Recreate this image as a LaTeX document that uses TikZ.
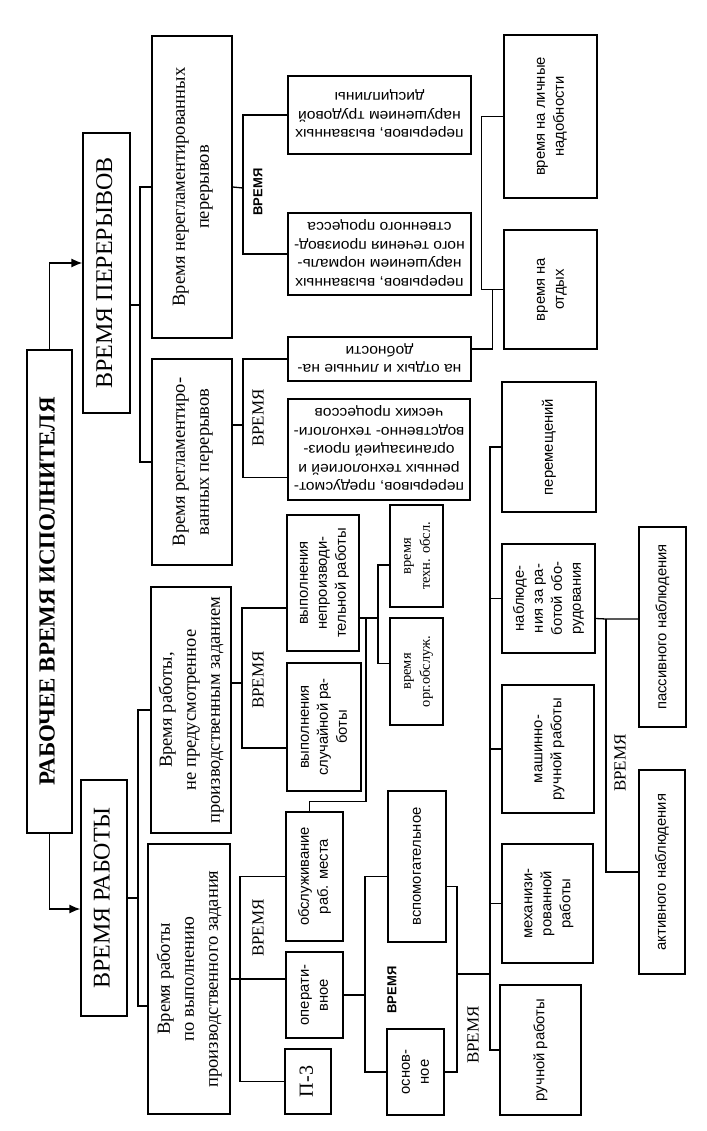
\documentclass[tikz,border=0pt]{standalone}
\usepackage{fontspec}
\setmainfont{Liberation Serif}
\setsansfont{Liberation Sans}
\newfontfamily\widesans[FakeStretch=1.08]{Liberation Sans}
\usepackage{graphicx}
\usetikzlibrary{arrows.meta}

\newcommand{\vtext}[1]{\rotatebox{90}{\begin{tabular}{@{}c@{}}#1\end{tabular}}}
\newcommand{\utext}[1]{\rotatebox{180}{\begin{tabular}{@{}c@{}}#1\end{tabular}}}

\begin{document}
\begin{tikzpicture}[
  x=1pt, y=-1pt, line width=1.3pt,
  box/.style={rectangle, draw, inner sep=0pt},
  sz/.style 2 args={minimum width=#1pt, minimum height=#2pt},
  head/.style={box, font=\fontsize{24}{28}\selectfont},
  main/.style={box, font=\fontsize{18.5}{24}\selectfont},
  sans/.style={box, font=\sffamily\fontsize{14.8}{19}\selectfont},
  flip/.style={box, font=\widesans\fontsize{14.5}{18.5}\selectfont},
  tbox/.style={box, font=\fontsize{14.5}{19}\selectfont},
  lbl/.style={rotate=90, font=\fontsize{17}{19}\selectfont},
  slbl/.style={rotate=90, font=\sffamily\bfseries\fontsize{13}{15}\selectfont},
  arrow/.style={-{Latex[length=11pt,width=9pt]}}
]
\useasboundingbox (0,0) rectangle (706,1131);

% title and first level
\node[box, sz={45}{483}, font=\bfseries\fontsize{23}{26}\selectfont] (title) at (49.5,591.5) {\vtext{РАБОЧЕЕ ВРЕМЯ ИСПОЛНИТЕЛЯ}};
\node[head, sz={47}{280}] (perer) at (106.5,273) {\vtext{ВРЕМЯ ПЕРЕРЫВОВ}};
\node[head, sz={46}{236}] (rabota) at (104,898) {\vtext{ВРЕМЯ РАБОТЫ}};

\draw[arrow] (title.north) |- ([yshift=10pt]perer.west);
\draw[arrow] (title.south) |- ([yshift=-11pt]rabota.west);

% second level
\node[main, sz={80}{302}] (nereg) at (192,187) {\vtext{Время нерегламентированных\\перерывов}};
\node[main, sz={80}{206}] (reg) at (192,462) {\vtext{Время регламентиро-\\ванных перерывов}};
\node[main, sz={80}{246}] (nepred) at (191,710) {\vtext{Время работы,\\не предусмотренное\\производственным заданием}};
\node[main, sz={82}{270}] (vypoln) at (189,979) {\vtext{Время работы\\по выполнению\\производственного задания}};

\coordinate (jP) at (140,305);
\draw ([yshift=-32pt]perer.east) -- (jP);
\draw (nereg.west) -| (jP) |- (reg.west);
\coordinate (jW) at (138,908);
\draw (rabota.east) -- (rabota.east -| jW);
\draw (nepred.west) -| (jW) |- ([yshift=-27pt]vypoln.west);

% breaks
\node[flip, sz={183}{78}] (narush) at (379.5,115) {\utext{перерывов, вызванных\\нарушением трудовой\\дисциплины}};
\node[flip, sz={183}{82}] (normal) at (379.5,254) {\utext{перерывов, вызванных\\нарушением нормаль-\\ного течения производ-\\ственного процесса}};
\node[flip, sz={183}{44}] (otdyh) at (379.5,359) {\utext{на отдых и личные на-\\добности}};
\node[flip, sz={182}{101}] (predus) at (379,449.5) {\utext{перерывов, предусмот-\\ренных технологией и\\организацией произ-\\водственно- технологи-\\ческих процессов}};
\node[sans, sz={93}{163}] (lichnye) at (550.5,116.5) {\vtext{время на личные\\надобности}};
\node[sans, sz={93}{119}] (otdyhbox) at (550.5,289.5) {\vtext{время на\\отдых}};

\node[slbl] (tNR) at (258,192) {ВРЕМЯ};
\node[lbl] (tRG) at (258,418) {ВРЕМЯ};

\coordinate (jNR) at (243,188);
\draw (nereg.east) -- (jNR);
\draw (narush.west) -| (jNR) |- (normal.west);
\coordinate (jRG) at (243,425);
\draw ([yshift=37pt]reg.east) -- (jRG);
\draw (otdyh.west) -| (jRG) |- ([yshift=-28pt]predus.west);
\draw ([yshift=10pt]otdyh.east) -| ([xshift=-11pt]otdyhbox.west);
\draw (lichnye.west) -| ([xshift=-22pt]otdyhbox.west) -- (otdyhbox.west);

% work not in the task
\node[sans, sz={72}{136}] (neproizv) at (323,583) {\vtext{выполнения\\непроизводи-\\тельной работы}};
\node[sans, sz={74}{128}] (sluch) at (324,727) {\vtext{выполнения\\случайной ра-\\боты}};
\node[tbox, sz={53}{102}] (tehn) at (416.5,556) {\vtext{время\\техн. обсл.}};
\node[tbox, sz={53}{107}] (org) at (416.5,671.5) {\vtext{время\\орг.обслуж.}};

\node[lbl] (tNP) at (258,680) {ВРЕМЯ};

\coordinate (jNP) at (242,683);
\draw ([yshift=27pt]nepred.east) -- (jNP);
\draw ([yshift=-25pt]neproizv.west) -| (jNP) |- ([yshift=-21pt]sluch.west);
\coordinate (jT) at (378,618);
\coordinate (jN) at (366,618);
\draw ([yshift=-35pt]neproizv.east) -- (jT);
\draw ([yshift=-9pt]tehn.west) -| (jT) |- ([yshift=8pt]org.west);

% work on the task
\node[sans, sz={57}{129}] (obsl) at (314.5,876.5) {\vtext{обслуживание\\раб. места}};
\node[sans, sz={57}{86}] (oper) at (314.5,995) {\vtext{операти-\\вное}};
\node[box, sz={46}{65}, font=\fontsize{20}{24}\selectfont] (p3) at (308,1081.5) {\vtext{П-3}};
\node[sans, sz={58}{151}] (vspom) at (417,866.5) {\vtext{вспомогательное}};
\node[sans, sz={57}{86}] (osnov) at (415.5,1072) {\vtext{основ-\\ное}};

\node[lbl] (tVP) at (258,928) {ВРЕМЯ};
\node[slbl] (tOP) at (392,990) {ВРЕМЯ};

\coordinate (jV) at (240,979);
\draw (vypoln.east) -- (vypoln.east -| oper.west);
\draw (obsl.west) -| (jV) |- (p3.west);
\draw ([xshift=-5pt]obsl.north) -- ++(0,-10) -| (jN);
\coordinate (jOP) at (365,995);
\draw (oper.east) -- (jOP);
\draw ([yshift=-10pt]vspom.west) -| (jOP) |- (osnov.west);

% kinds of main time
\node[sans, sz={94}{130}] (perem) at (549,447) {\vtext{перемещений}};
\node[sans, sz={93}{109}] (nabl) at (548.5,598.5) {\vtext{наблюде-\\ния за ра-\\ботой обо-\\рудования}};
\node[sans, sz={92}{128}] (mash) at (548,749) {\vtext{машинно-\\ручной работы}};
\node[sans, sz={91}{119}] (meh) at (547.5,903.5) {\vtext{механизи-\\рованной\\работы}};
\node[sans, sz={81}{130}] (ruch) at (540.5,1050) {\vtext{ручной работы}};
\node[sans, sz={47}{200}] (passiv) at (662.5,627) {\vtext{пассивного наблюдения}};
\node[sans, sz={46}{204}] (aktiv) at (662,872) {\vtext{активного наблюдения}};

\node[lbl] (tVS) at (473,1035) {ВРЕМЯ};
\node[lbl] (tNB) at (620,763) {ВРЕМЯ};

\coordinate (jR) at (457,974);
\coordinate (jM) at (490,974);
\draw ([yshift=-20pt]vspom.east) -| (jR) |- (osnov.east);
\draw (jR) -- (jM);
\draw (perem.west) -| (jM) |- (ruch.west);
\draw (jM |- nabl.west) -- (nabl.west);
\draw (jM |- mash.west) -- (mash.west);
\draw (jM |- meh.west) -- (meh.west);
\coordinate (jA) at (606,619);
\draw ([yshift=-20pt]nabl.east) -- (jA) -- (jA -| passiv.west);
\draw (jA) |- (aktiv.west);
\end{tikzpicture}
\end{document}
